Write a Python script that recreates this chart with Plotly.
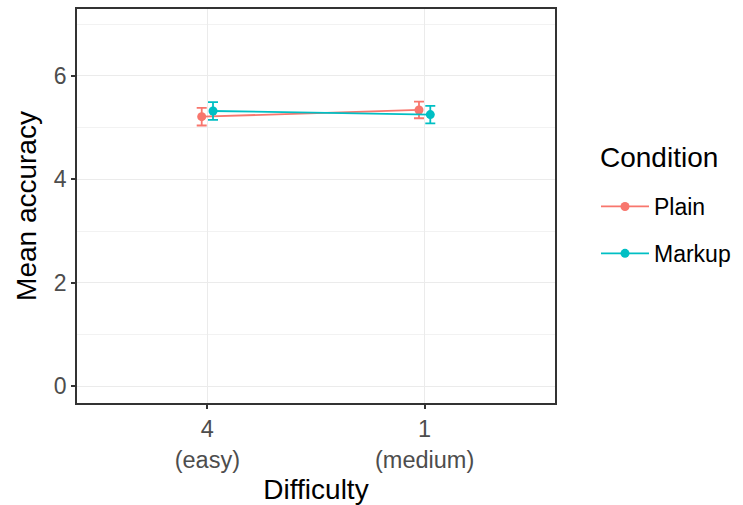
import plotly.graph_objects as go

categories = ["4<br>(easy)", "1<br>(medium)"]
conditions = ["Plain", "Markup"]
plain_mean = [5.21, 5.34]
plain_se = [0.17, 0.16]
markup_mean = [5.32, 5.25]
markup_se = [0.17, 0.17]
colors = {"Plain": "#F8766D", "Markup": "#00BFC4"}
dodge = {"Plain": -0.026, "Markup": 0.026}

series = {"Plain": (plain_mean, plain_se), "Markup": (markup_mean, markup_se)}

fig = go.Figure()
for cond in conditions:
    means, se = series[cond]
    xs = [k + 1 + dodge[cond] for k in range(len(categories))]
    fig.add_trace(go.Scatter(
        x=xs, y=means, name=cond, mode="lines+markers",
        line=dict(color=colors[cond], width=1.8),
        marker=dict(color=colors[cond], size=9),
        error_y=dict(type="data", array=se, color=colors[cond], thickness=1.8, width=5),
        legendgroup=cond,
    ))

font_family = "Liberation Sans, Arial, sans-serif"
fig.add_annotation(
    text="Condition", xref="paper", yref="paper",
    x=(598 - 77) / 478, y=(403 - 157) / 394, xanchor="left", yanchor="middle",
    showarrow=False, font=dict(size=28, color="black"),
)
fig.update_layout(
    width=743, height=505,
    margin=dict(l=77, r=188, t=9, b=102, autoexpand=False),
    paper_bgcolor="white", plot_bgcolor="white",
    font=dict(family=font_family, color="black"),
    showlegend=True,
    legend=dict(
        font=dict(size=23),
        xref="container", yref="container",
        x=596/743, y=1 - 185/505, xanchor="left", yanchor="top",
        tracegroupgap=14, itemwidth=48,
    ),
    xaxis=dict(
        range=[0.4, 2.6],
        tickvals=[1, 2], ticktext=categories,
        showgrid=True, gridcolor="#EBEBEB", gridwidth=1.3,
        zeroline=False, automargin=False,
        showline=True, mirror=True, linecolor="#333333", linewidth=1.5,
        ticks="outside", ticklen=4, tickcolor="#333333", tickwidth=1.5,
        tickfont=dict(size=23.5, color="#4D4D4D"),
        title=dict(text="Difficulty", font=dict(size=28), standoff=8),
    ),
    yaxis=dict(
        range=[-0.32, 7.29],
        tickvals=[0, 2, 4, 6],
        showgrid=True, gridcolor="#EBEBEB", gridwidth=1.3,
        minor=dict(showgrid=True, gridcolor="#F2F2F2", gridwidth=0.8, tickvals=[1, 3, 5, 7]),
        zeroline=False, automargin=False,
        showline=True, mirror=True, linecolor="#333333", linewidth=1.5,
        ticks="outside", ticklen=4, tickcolor="#333333", tickwidth=1.5,
        tickfont=dict(size=23, color="#4D4D4D"),
        title=dict(text="Mean accuracy", font=dict(size=28), standoff=9),
    ),
)

fig.write_html("out.html", config={"displayModeBar": False},
               post_script="document.body.style.margin='0';")
